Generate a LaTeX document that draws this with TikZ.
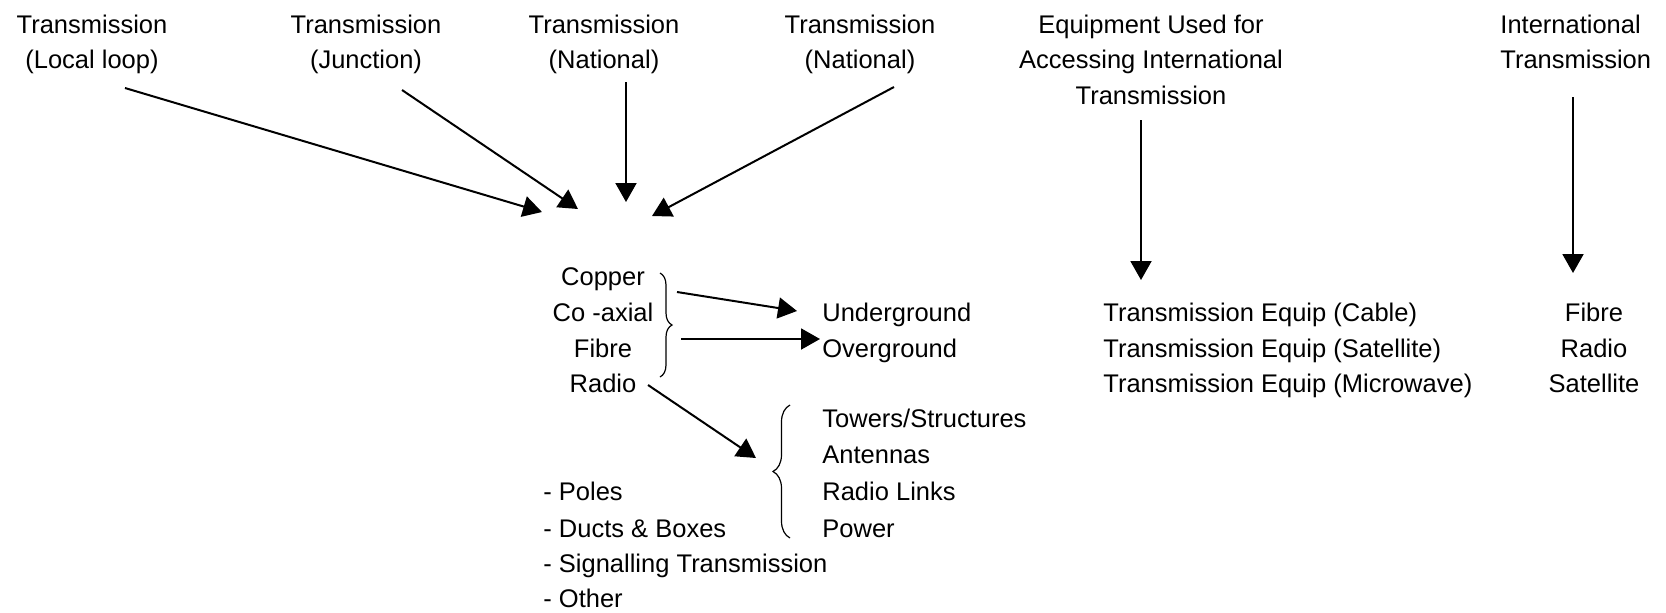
\documentclass[tikz,border=0pt]{standalone}
\usepackage{fontspec}
\setmainfont{Liberation Sans}
\usetikzlibrary{arrows.meta,decorations.pathreplacing}
\begin{document}
\begin{tikzpicture}[x=0.5pt,y=-0.5pt,
  lbl/.style={inner sep=0pt, font=\fontsize{12.75}{15}\selectfont, anchor=base},
  lblw/.style={lbl, anchor=base west},
  arr/.style={-{Triangle[length=9.5pt,width=10.5pt]}, line width=1pt},
  brc/.style={decorate, decoration={brace, amplitude=#1}, line width=0.6pt}]
\useasboundingbox (0,0) rectangle (1666,612);

% ---- top row of headings ----
\node[lbl] (t1a) at (92,33)   {Transmission};
\node[lbl] (t1b) at (92,68.5) {(Local loop)};
\node[lbl] (t2a) at (366,33)   {Transmission};
\node[lbl] (t2b) at (366,68.5) {(Junction)};
\node[lbl] (t3a) at (604,33)   {Transmission};
\node[lbl] (t3b) at (604,68.5) {(National)};
\node[lbl] (t4a) at (860,33)   {Transmission};
\node[lbl] (t4b) at (860,68.5) {(National)};
\node[lbl] (t5a) at (1151,33)  {Equipment Used for};
\node[lbl] (t5b) at (1151,68.5){Accessing International};
\node[lbl] (t5c) at (1151,104) {Transmission};
\node[lblw] (t6a) at (1500,33)   {International};
\node[lblw] (t6b) at (1500,68.5) {Transmission};

% ---- media column ----
\node[lbl] (m1) at (603,285)   {Copper};
\node[lbl] (m2) at (603,321)   {Co -axial};
\node[lbl] (m3) at (603,357)   {Fibre};
\node[lbl] (m4) at (603,392.5) {Radio};

\node[lblw] (ug) at (822,321) {Underground};
\node[lblw] (og) at (822,357) {Overground};

\node[lblw] (r1) at (822,427) {Towers/Structures};
\node[lblw] (r2) at (822,463) {Antennas};
\node[lblw] (r3) at (822,500) {Radio Links};
\node[lblw] (r4) at (822,537) {Power};

\node[lblw] (p1) at (543,500) {- Poles};
\node[lblw] (p2) at (543,537) {- Ducts \& Boxes};
\node[lblw] (p3) at (543,572) {- Signalling Transmission};
\node[lblw] (p4) at (543,607) {- Other};

% ---- international equipment ----
\node[lblw] (e1) at (1103,321)   {Transmission Equip (Cable)};
\node[lblw] (e2) at (1103,357)   {Transmission Equip (Satellite)};
\node[lblw] (e3) at (1103,392.5) {Transmission Equip (Microwave)};

\node[lbl] (i1) at (1594,321)   {Fibre};
\node[lbl] (i2) at (1594,357)   {Radio};
\node[lbl] (i3) at (1594,392.5) {Satellite};

% ---- braces ----
\coordinate (b1t) at (660,273);
\coordinate (b1b) at (660,377);
\draw[brc=6pt] (b1t) -- (b1b);
\coordinate (b2t) at (790,405);
\coordinate (b2b) at (790,538);
\draw[brc=8.5pt] (b2b) -- (b2t);

% ---- arrow end points ----
\coordinate (a1s) at (125,88);  \coordinate (a1e) at (542,212);
\coordinate (a2s) at (402,90);  \coordinate (a2e) at (578,209);
\coordinate (a3s) at (626,82);  \coordinate (a3e) at (626,202);
\coordinate (a4s) at (894,87);  \coordinate (a4e) at (652,216);
\coordinate (a5s) at (1141,120);\coordinate (a5e) at (1141,280);
\coordinate (a6s) at (1573,97); \coordinate (a6e) at (1573,273);
\coordinate (aus) at (677,292); \coordinate (aue) at (797,311);
\coordinate (aos) at (681,339); \coordinate (aoe) at (820,339);
\coordinate (ars) at (648,385); \coordinate (are) at (756,458);

% ---- arrows ----
\draw[arr] (a1s) -- (a1e);
\draw[arr] (a2s) -- (a2e);
\draw[arr] (a3s) -- (a3e);
\draw[arr] (a4s) -- (a4e);
\draw[arr] (a5s) -- (a5e);
\draw[arr] (a6s) -- (a6e);
\draw[arr] (aus) -- (aue);
\draw[arr] (aos) -- (aoe);
\draw[arr] (ars) -- (are);
\end{tikzpicture}
\end{document}
